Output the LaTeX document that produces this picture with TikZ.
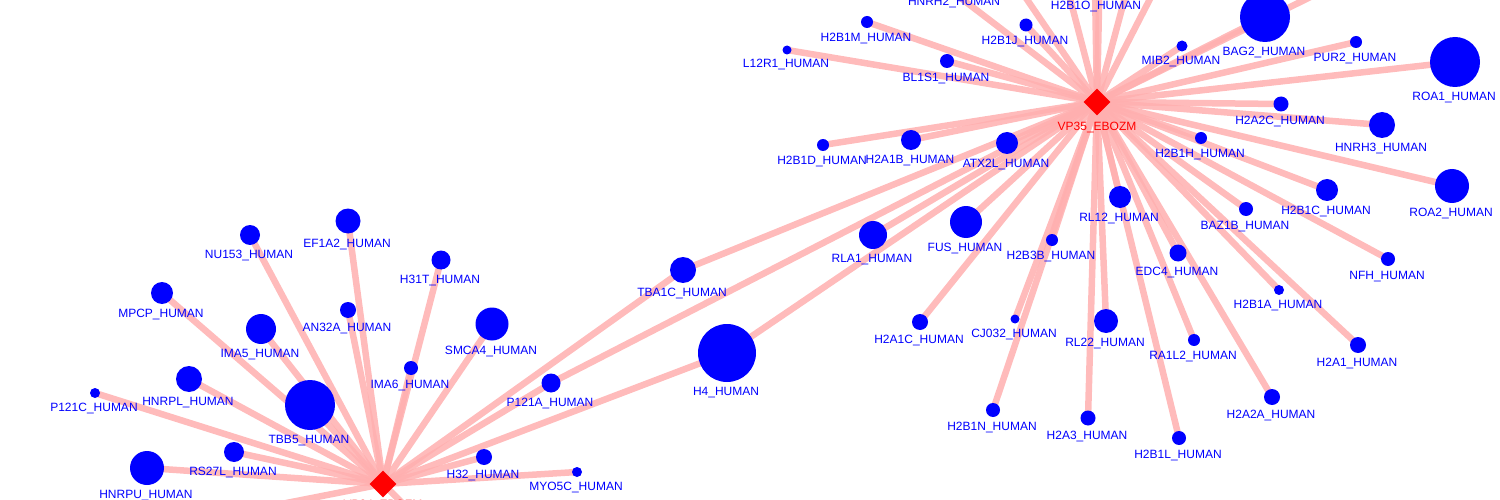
\documentclass[tikz,border=0pt]{standalone}
\usepackage{fontspec}
\setmainfont{Liberation Sans}
\usetikzlibrary{shapes.geometric,calc}
\pgfdeclarelayer{bg}\pgfsetlayers{bg,main}
\definecolor{edgepink}{RGB}{255,175,175}
\definecolor{nodeblue}{RGB}{0,0,255}
\definecolor{hubred}{RGB}{255,0,0}
\tikzset{
  prot/.style={circle, fill=nodeblue, inner sep=0pt, minimum size=#1},
  lbl/.style={text=nodeblue, font=\fontsize{12}{13}\selectfont, inner sep=0pt, anchor=base},
  hub/.style={diamond, fill=hubred, inner sep=0pt, minimum size=27pt},
  hublbl/.style={text=hubred, font=\fontsize{12}{13}\selectfont, inner sep=0pt, anchor=base},
  link/.style={draw=edgepink, line width=6.5pt, opacity=0.85}
}
\newcommand\protnode[4]{%
  \node[prot=#4*2pt] (#1) at (#2,#3) {};
  \node[lbl] (#1l) at ($(#2-1,#3+#4+13.5)$) {#1\_HUMAN};}
\begin{document}
\begin{tikzpicture}[x=1pt,y=-1pt]
\useasboundingbox (0,0) rectangle (1500,500);
\clip (0,0) rectangle (1500,500);
% hubs
\node[hub] (vp35) at (1097,102) {};
\node[hublbl] (vp35l) at (1097,131) {VP35\_EBOZM};
\node[hub] (vp24) at (383,484) {};
\node[hublbl] (vp24l) at (383,508) {VP24\_EBOZM};
% off-image partners
\coordinate (offB) at (1000,-40);
\coordinate (offC) at (1060,-40);
\coordinate (offD) at (1100,-40);
\coordinate (offE) at (1135,-40);
\coordinate (offF) at (1170,-40);
\coordinate (offG) at (1345,-20);
\coordinate (offH) at (200,520);
\coordinate (offI) at (430,530);
\node[prot=0pt] (HNRH2) at (945,-14) {};
\node[lbl] (HNRH2l) at (954,6) {HNRH2\_HUMAN};
\node[prot=0pt] (H2B1O) at (1095,-12) {};
\node[lbl] (H2B1Ol) at (1096,10) {H2B1O\_HUMAN};
% VP35 partners
\protnode{H2B1M}{867}{22}{6}
\protnode{L12R1}{787}{50}{4.5}
\protnode{BL1S1}{947}{61}{7}
\protnode{H2B1J}{1026}{25}{6.5}
\protnode{H2B1D}{823}{145}{6}
\protnode{H2A1B}{911}{140}{10}
\protnode{ATX2L}{1007}{143}{11}
\protnode{MIB2}{1182}{46}{5.5}
\protnode{BAG2}{1265}{17}{25}
\protnode{PUR2}{1356}{42}{6}
\protnode{ROA1}{1455}{62}{25}
\protnode{H2A2C}{1281}{104}{7.5}
\protnode{HNRH3}{1382}{125}{13}
\protnode{H2B1H}{1201}{138}{6}
\protnode{ROA2}{1452}{186}{17}
\protnode{H2B1C}{1327}{190}{11}
\protnode{BAZ1B}{1246}{209}{7}
\protnode{NFH}{1388}{259}{7}
\protnode{H2B1A}{1279}{290}{5}
\protnode{H2A1}{1358}{345}{8}
\protnode{RL12}{1120}{197}{11}
\protnode{EDC4}{1178}{253}{8.5}
\protnode{RA1L2}{1194}{340}{6}
\protnode{H2A2A}{1272}{397}{8}
\protnode{H2B1L}{1179}{438}{7}
\protnode{H2A3}{1088}{418}{7.5}
\protnode{H2B1N}{993}{410}{7}
\protnode{RL22}{1106}{321}{12}
\protnode{CJ032}{1015}{319}{4.5}
\protnode{H2B3B}{1052}{240}{6}
\protnode{H2A1C}{920}{322}{8}
\protnode{FUS}{966}{222}{16}
\protnode{RLA1}{873}{235}{14}
\protnode{TBA1C}{683}{270}{13}
\protnode{H4}{727}{353}{29}
\protnode{P121A}{551}{383}{9.5}
% VP24 partners
\protnode{NU153}{250}{235}{10}
\protnode{EF1A2}{348}{221}{12.5}
\protnode{H31T}{441}{260}{9.5}
\protnode{MPCP}{162}{293}{11}
\protnode{AN32A}{348}{310}{8}
\protnode{SMCA4}{492}{324}{16.5}
\protnode{IMA5}{261}{329}{15}
\protnode{IMA6}{411}{368}{7}
\protnode{HNRPL}{189}{379}{13}
\protnode{P121C}{95}{393}{5}
\protnode{TBB5}{310}{405}{25}
\protnode{RS27L}{234}{452}{10}
\protnode{HNRPU}{147}{468}{17}
\protnode{H32}{484}{457}{8}
\protnode{MYO5C}{577}{472}{5}
% edges
\begin{pgfonlayer}{bg}
\foreach \n in {H2B1M,L12R1,BL1S1,H2B1J,HNRH2,H2B1O,offB,offC,offD,offE,offF,offG,MIB2,BAG2,PUR2,ROA1,H2A2C,HNRH3,H2B1H,ROA2,H2B1C,BAZ1B,NFH,H2B1A,H2A1,RL12,EDC4,RA1L2,H2A2A,H2B1L,H2A3,H2B1N,RL22,CJ032,H2B3B,H2A1C,FUS,RLA1,ATX2L,H2A1B,H2B1D,TBA1C,H4,P121A}
  \draw[link] (vp35.center) -- (\n.center);
\foreach \n in {NU153,EF1A2,H31T,MPCP,AN32A,SMCA4,IMA5,IMA6,HNRPL,P121C,TBB5,RS27L,HNRPU,H32,MYO5C,TBA1C,H4,P121A,offH,offI}
  \draw[link] (vp24.center) -- (\n.center);
\end{pgfonlayer}
\end{tikzpicture}
\end{document}
